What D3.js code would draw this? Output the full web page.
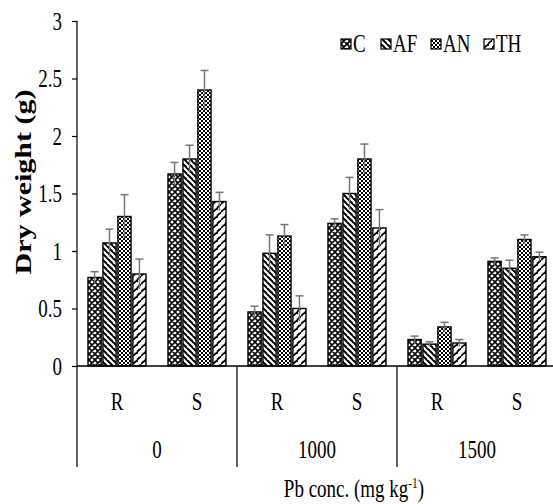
<!DOCTYPE html>
<html>
<head>
<meta charset="utf-8">
<script src="https://cdn.jsdelivr.net/npm/d3@7"></script>
<style>
  body { margin: 0; background: #fff; }
  text { font-family: "Liberation Serif", "Times New Roman", serif; fill: #000; }
</style>
</head>
<body>
<div id="chart"></div>
<script>
'use strict';

// data
const parts = ["R", "S", "R", "S", "R", "S"];
const concs = ["0", "1000", "1500"];
const series = ["C", "AF", "AN", "TH"];
const valC  = [0.77, 1.67, 0.47, 1.24, 0.23, 0.91];
const valAF = [1.07, 1.80, 0.98, 1.50, 0.19, 0.85];
const valAN = [1.30, 2.40, 1.13, 1.80, 0.34, 1.10];
const valTH = [0.80, 1.43, 0.50, 1.20, 0.20, 0.95];
const errC  = [0.05, 0.10, 0.05, 0.04, 0.03, 0.03];
const errAF = [0.12, 0.12, 0.16, 0.14, 0.02, 0.07];
const errAN = [0.19, 0.17, 0.10, 0.13, 0.04, 0.04];
const errTH = [0.13, 0.08, 0.11, 0.16, 0.03, 0.04];
const yTicks = [0, 0.5, 1, 1.5, 2, 2.5, 3];

const values = [valC, valAF, valAN, valTH];
const errors = [errC, errAF, errAN, errTH];

const width = 553, height = 504;
const plotLeft = 77, plotRight = 557, plotTop = 21, base = 366, plotBottom = 467;
const squash = 0.76;   // the original text is narrow, like a condensed Times
const fs = 25;

let svg = d3.select("#chart").append("svg")
    .attr("width", width)
    .attr("height", height);

function label(parent, x, y, str, size, anchor) {
    return parent.append("text")
        .attr("transform", "translate(" + x + "," + y + ") scale(" + squash + ",1)")
        .attr("text-anchor", anchor || "middle")
        .attr("font-size", size)
        .text(str);
}

// fill patterns
let defs = svg.append("defs");

let pC = defs.append("pattern").attr("id", "pat-C")
    .attr("patternUnits", "userSpaceOnUse").attr("width", 6).attr("height", 6);
pC.append("rect").attr("width", 6).attr("height", 6).attr("fill", "#fff");
pC.append("path").attr("d", "M0,0L6,6M6,0L0,6M-1,5L1,7M5,-1L7,1M-1,1L1,-1M5,7L7,5")
    .attr("stroke", "#000").attr("stroke-width", 1.6);

let pAF = defs.append("pattern").attr("id", "pat-AF")
    .attr("patternUnits", "userSpaceOnUse").attr("width", 6).attr("height", 6);
pAF.append("rect").attr("width", 6).attr("height", 6).attr("fill", "#fff");
pAF.append("path").attr("d", "M0,0L6,6M-3,3L0,6M3,-3L9,3")
    .attr("stroke", "#000").attr("stroke-width", 2);

let pAN = defs.append("pattern").attr("id", "pat-AN")
    .attr("patternUnits", "userSpaceOnUse").attr("width", 4).attr("height", 4);
pAN.append("rect").attr("width", 4).attr("height", 4).attr("fill", "#fff");
pAN.append("rect").attr("width", 2).attr("height", 2).attr("fill", "#000");
pAN.append("rect").attr("x", 2).attr("y", 2).attr("width", 2).attr("height", 2).attr("fill", "#000");

let pTH = defs.append("pattern").attr("id", "pat-TH")
    .attr("patternUnits", "userSpaceOnUse").attr("width", 8).attr("height", 8);
pTH.append("rect").attr("width", 8).attr("height", 8).attr("fill", "#fff");
pTH.append("path").attr("d", "M0,4L3,1M4,8L7,5M3,1L5,1M7,5L9,5")
    .attr("stroke", "#000").attr("stroke-width", 1.8);

// scales
let y = d3.scaleLinear().domain([0, 3]).range([base, plotTop]);

let x0 = d3.scaleBand()
    .domain(d3.range(parts.length))
    .range([plotLeft, plotRight]);

let x1 = d3.scaleBand()
    .domain(series)
    .range([11, x0.bandwidth() - 11])
    .paddingInner(0.12);

// y axis
let yAxis = d3.axisLeft(y).tickValues(yTicks).tickSize(5).tickFormat(d3.format("~g"));
let gy = svg.append("g").attr("transform", "translate(" + plotLeft + ",0)").call(yAxis);
gy.select(".domain").remove();
gy.selectAll(".tick line").attr("stroke", "#000").attr("stroke-width", 1.2);
gy.selectAll(".tick text")
    .attr("font-size", fs)
    .attr("font-family", "Liberation Serif, serif")
    .attr("transform", "scale(" + squash + ",1)")
    .attr("x", -15 / squash)
    .attr("dy", "0.33em");
svg.append("line")
    .attr("x1", plotLeft).attr("x2", plotLeft).attr("y1", plotTop).attr("y2", plotBottom)
    .attr("stroke", "#000").attr("stroke-width", 1.2);

svg.append("text")
    .attr("transform", "translate(31,182) rotate(-90) scale(1," + squash + ")")
    .attr("text-anchor", "middle")
    .attr("font-size", 30)
    .attr("font-weight", "bold")
    .text("Dry weight (g)");

// bars
let groups = svg.append("g").selectAll("g")
    .data(d3.range(parts.length))
    .enter().append("g")
    .attr("transform", function(i) { return "translate(" + x0(i) + ",0)"; });

function rows(i) {
    return series.map(function(s, k) { return { s: s, v: values[k][i], e: errors[k][i] }; });
}

groups.selectAll("rect")
    .data(rows)
    .enter().append("rect")
    .attr("x", function(d) { return x1(d.s); })
    .attr("y", function(d) { return y(d.v); })
    .attr("width", x1.bandwidth())
    .attr("height", function(d) { return base - y(d.v); })
    .attr("fill", function(d) { return "url(#pat-" + d.s + ")"; })
    .attr("stroke", "#000")
    .attr("stroke-width", 1.4);

// error bars
let errs = groups.selectAll("g.err")
    .data(rows)
    .enter().append("g").attr("class", "err");

errs.append("line")
    .attr("x1", function(d) { return x1(d.s) + x1.bandwidth() / 2; })
    .attr("x2", function(d) { return x1(d.s) + x1.bandwidth() / 2; })
    .attr("y1", function(d) { return y(d.v - d.e); })
    .attr("y2", function(d) { return y(d.v + d.e); })
    .attr("stroke", "#777").attr("stroke-width", 1.5);

errs.append("line")
    .attr("x1", function(d) { return x1(d.s) + x1.bandwidth() / 2 - 4; })
    .attr("x2", function(d) { return x1(d.s) + x1.bandwidth() / 2 + 4; })
    .attr("y1", function(d) { return y(d.v + d.e); })
    .attr("y2", function(d) { return y(d.v + d.e); })
    .attr("stroke", "#777").attr("stroke-width", 1.5);

// x axis and category lines
svg.append("line")
    .attr("x1", plotLeft).attr("x2", plotRight).attr("y1", base).attr("y2", base)
    .attr("stroke", "#000").attr("stroke-width", 1.5);

let bigBand = d3.scaleBand().domain(concs).range([plotLeft, plotRight]);

svg.append("g").selectAll("line")
    .data(concs.slice(1).concat(["end"]))
    .enter().append("line")
    .attr("x1", function(d) { return d === "end" ? plotRight : bigBand(d); })
    .attr("x2", function(d) { return d === "end" ? plotRight : bigBand(d); })
    .attr("y1", base).attr("y2", plotBottom)
    .attr("stroke", "#000").attr("stroke-width", 1.2);

let gParts = svg.append("g");
parts.forEach(function(p, i) {
    label(gParts, x0(i) + x0.bandwidth() / 2, 410, p, fs);
});

let gConcs = svg.append("g");
concs.forEach(function(c) {
    label(gConcs, bigBand(c) + bigBand.bandwidth() / 2, 458, c, fs);
});

let title = label(svg, 354, 497, "", fs);
title.append("tspan").text("Pb conc. (mg kg");
title.append("tspan").attr("dy", -9).attr("font-size", 15).text("-1");
title.append("tspan").attr("dy", 9).text(")");

// legend
let legend = svg.append("g").attr("transform", "translate(341,44)");
let lx = [0, 40, 90, 143];
series.forEach(function(s, i) {
    let g = legend.append("g").attr("transform", "translate(" + lx[i] + ",0)");
    g.append("rect")
        .attr("x", 0).attr("y", -5).attr("width", 10).attr("height", 10)
        .attr("fill", "url(#pat-" + s + ")")
        .attr("stroke", "#000").attr("stroke-width", 1.2);
    label(g, 12, 8, s, fs, "start");
});
</script>
</body>
</html>
